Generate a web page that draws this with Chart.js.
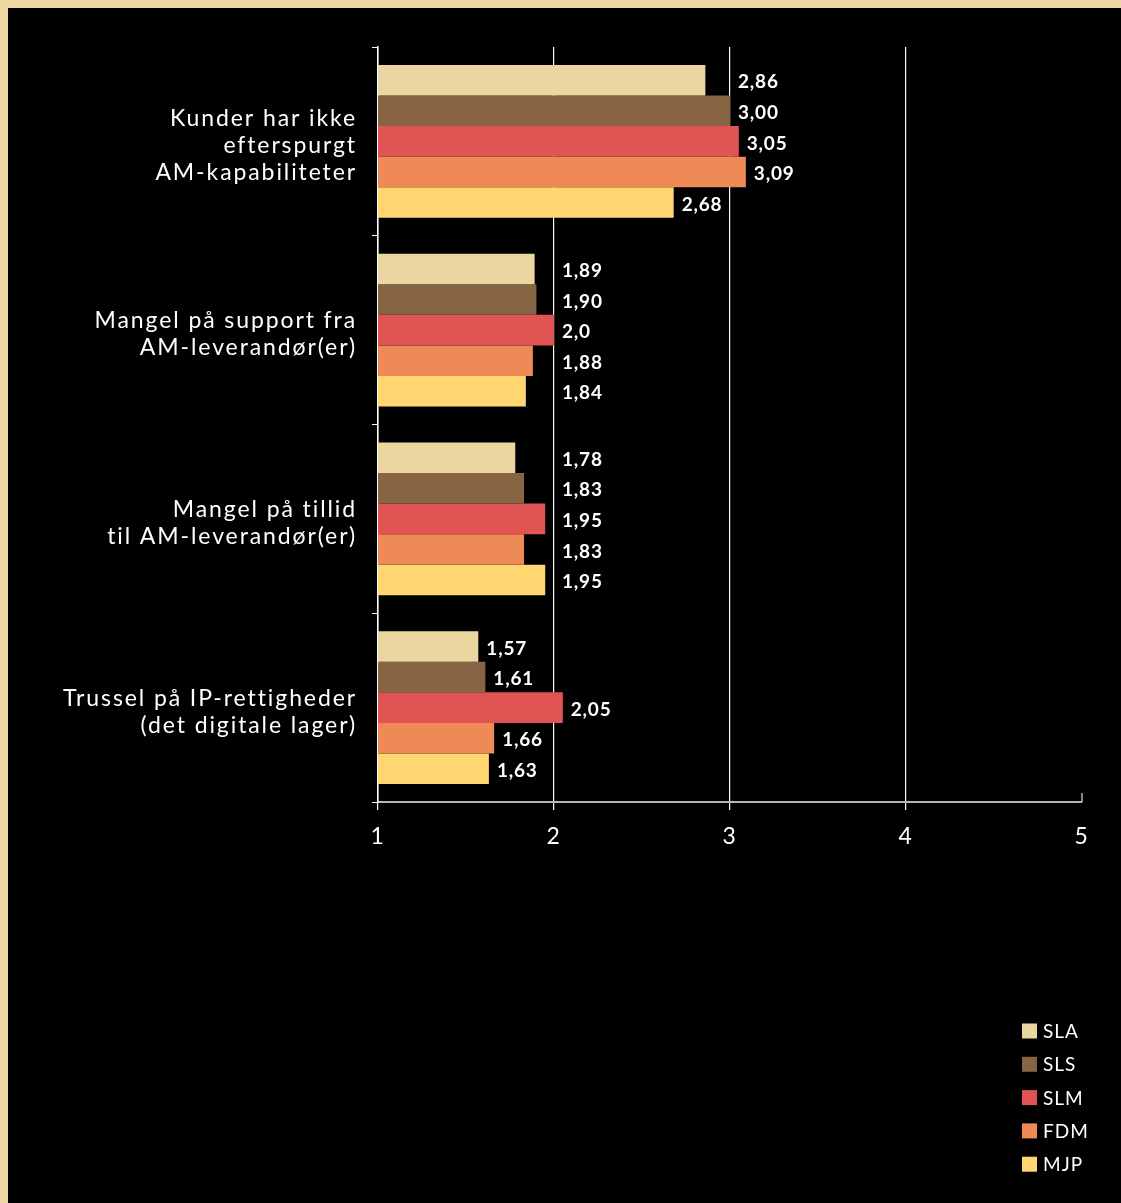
<!DOCTYPE html>
<html lang="da">
<head>
<meta charset="utf-8">
<title>Barrierer for AM</title>
<script src="https://cdn.jsdelivr.net/npm/chart.js@4/dist/chart.umd.min.js"></script>
<style>
  html, body { margin: 0; padding: 0; }
  body { width: 1121px; height: 1203px; background: #ecd7a2; overflow: hidden; }
  #frame { position: absolute; left: 8px; top: 8px; width: 1113px; height: 1195px; background: #000; }
</style>
</head>
<body>
<div id="frame"><canvas id="chart"></canvas></div>
<script>
// Categories (multi-line axis labels)
const categories = [
  ["Kunder har ikke", "efterspurgt", "AM-kapabiliteter"],
  ["Mangel på support fra", "AM-leverandør(er)"],
  ["Mangel på tillid", "til AM-leverandør(er)"],
  ["Trussel på IP-rettigheder", "(det digitale lager)"]
];

// Series, as printed next to each bar
const seriesNames = ["SLA", "SLS", "SLM", "FDM", "MJP"];
const SLA = ["2,86", "1,89", "1,78", "1,57"];
const SLS = ["3,00", "1,90", "1,83", "1,61"];
const SLM = ["3,05", "2,0", "1,95", "2,05"];
const FDM = ["3,09", "1,88", "1,83", "1,66"];
const MJP = ["2,68", "1,84", "1,95", "1,63"];
const seriesColors = ["#ebd6a1", "#876443", "#e05553", "#ee8a55", "#ffd670"];

// Scale ticks
const xTicks = [1, 2, 3, 4, 5];

const FONT = "Lato, 'Noto Sans', sans-serif";
const toNumber = s => parseFloat(s.replace(",", "."));
const seriesText = [SLA, SLS, SLM, FDM, MJP];

const datasets = seriesNames.map((name, i) => ({
  label: name,
  data: seriesText[i].map(toNumber),
  valueText: seriesText[i],
  backgroundColor: seriesColors[i],
  borderWidth: 0,
  categoryPercentage: 0.81,
  barPercentage: 1.0
}));

// Slightly open tracking for all canvas text
const tracking = {
  id: "tracking",
  beforeDraw(chart) { chart.ctx.letterSpacing = "1.9px"; }
};

// Value labels: placed right of each bar, pushed past a gridline if they would cross it
const valueLabels = {
  id: "valueLabels",
  afterDatasetsDraw(chart) {
    const ctx = chart.ctx;
    const xs = chart.scales.x;
    const gridPx = xTicks.slice(1, -1).map(v => xs.getPixelForValue(v));
    ctx.save();
    ctx.letterSpacing = "0.8px";
    ctx.font = "bold 19px " + FONT;
    ctx.fillStyle = "#ffffff";
    ctx.textAlign = "left";
    ctx.textBaseline = "middle";
    chart.data.datasets.forEach((ds, di) => {
      chart.getDatasetMeta(di).data.forEach((bar, i) => {
        const text = ds.valueText[i];
        const w = ctx.measureText(text).width;
        let x = bar.x + 8;
        for (const g of gridPx) {
          if (x < g + 2 && x + w > g - 2) x = g + 8;
        }
        ctx.fillText(text, x, bar.y + 2);
      });
    });
    ctx.restore();
  }
};

// Small end mark on the value axis and the vertical legend in the lower right
const extras = {
  id: "extras",
  afterDraw(chart) {
    const ctx = chart.ctx;
    const a = chart.chartArea;
    ctx.save();
    ctx.strokeStyle = "#b4b4b4";
    ctx.lineWidth = 1.5;
    ctx.beginPath();
    ctx.moveTo(a.right, a.bottom);
    ctx.lineTo(a.right, a.bottom - 9);
    ctx.stroke();

    const x0 = chart.width - 99;
    const y0 = chart.height - 172;
    const step = 33.3;
    ctx.letterSpacing = "1px";
    ctx.font = "19px " + FONT;
    ctx.textAlign = "left";
    ctx.textBaseline = "middle";
    chart.data.datasets.forEach((ds, i) => {
      const cy = y0 + i * step;
      ctx.fillStyle = ds.backgroundColor;
      ctx.fillRect(x0, cy - 7.5, 15, 15);
      ctx.fillStyle = "#ffffff";
      ctx.fillText(ds.label, x0 + 21, cy + 1);
    });
    ctx.restore();
  }
};

new Chart(document.getElementById("chart"), {
  type: "bar",
  data: { labels: categories, datasets },
  options: {
    indexAxis: "y",
    responsive: true,
    maintainAspectRatio: false,
    animation: false,
    layout: { padding: { left: 0, top: 39, right: 39, bottom: 0 } },
    plugins: {
      legend: { display: false },
      tooltip: { enabled: false }
    },
    scales: {
      x: {
        type: "linear",
        min: xTicks[0],
        max: xTicks[xTicks.length - 1],
        afterBuildTicks(scale) { scale.ticks = xTicks.map(v => ({ value: v })); },
        afterFit(scale) { scale.height = 401; scale.paddingLeft = 0; scale.paddingRight = 0; },
        grid: {
          color: c => (c.tick && c.tick.value === xTicks[xTicks.length - 1]) ? "rgba(0,0,0,0)" : "#ffffff",
          lineWidth: 1.2,
          tickLength: 8
        },
        border: { color: "#b4b4b4", width: 2 },
        ticks: {
          color: "#ffffff",
          font: { family: FONT, size: 23 },
          padding: 13
        }
      },
      y: {
        type: "category",
        offset: true,
        afterFit(scale) { scale.width = 370; scale.paddingTop = 0; scale.paddingBottom = 0; },
        grid: {
          offset: true,
          drawOnChartArea: false,
          color: "#ffffff",
          tickLength: 6
        },
        border: { color: "#ffffff", width: 1.5 },
        ticks: {
          color: "#ffffff",
          font: { family: FONT, size: 23, lineHeight: 1.17 },
          padding: 15,
          labelOffset: 4
        }
      }
    }
  },
  plugins: [tracking, valueLabels, extras]
});
</script>
</body>
</html>
